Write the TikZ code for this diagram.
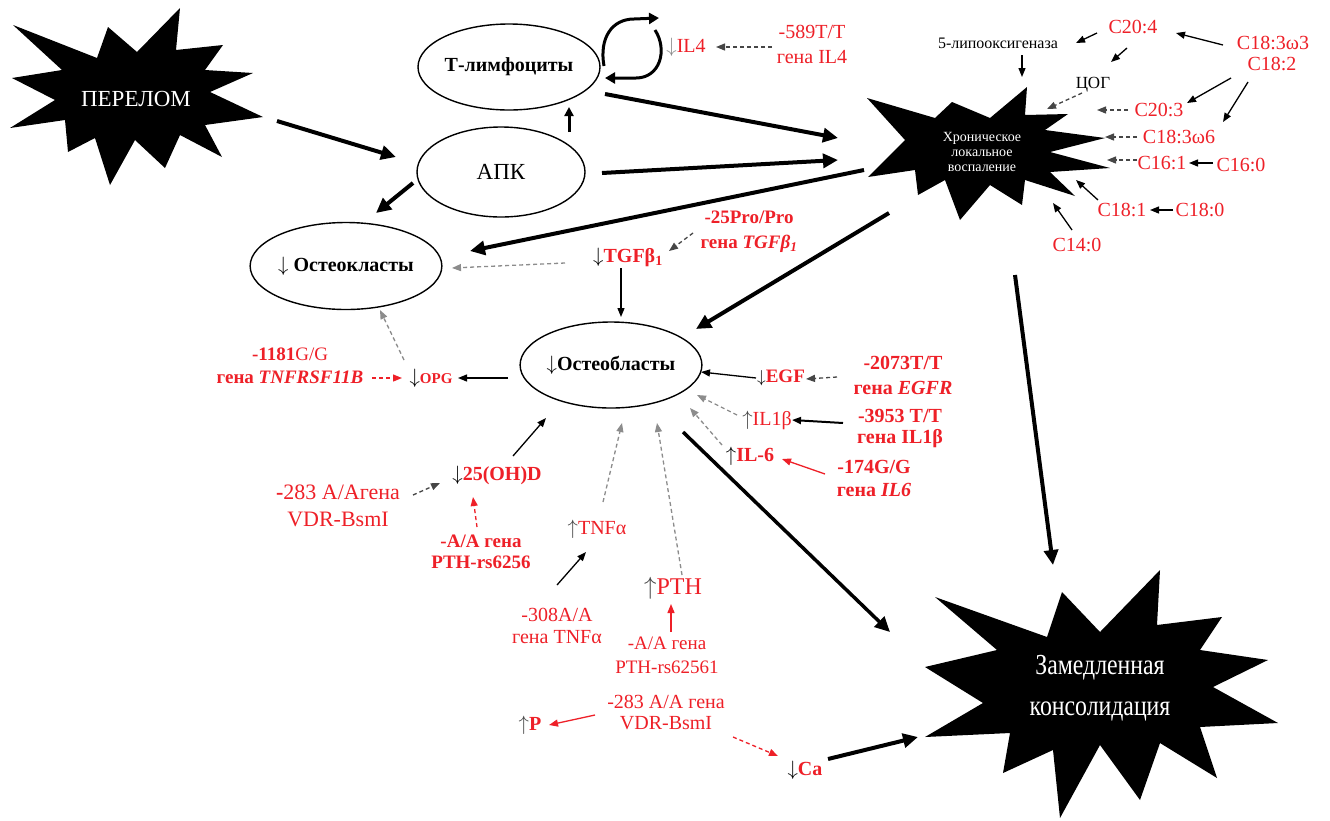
\documentclass[tikz,border=0pt]{standalone}
\usepackage{fontspec}
\setmainfont{Liberation Serif}
\usetikzlibrary{arrows.meta,shapes.geometric}
\definecolor{myred}{RGB}{238,32,40}
\definecolor{dgray}{RGB}{70,70,70}
\definecolor{mgray}{RGB}{140,140,140}
\newcommand\fz[2]{\fontsize{#1}{#2}\selectfont}
\newcommand\dnb{{\color{black}$\downarrow$}}
\newcommand\upg{{\color{dgray}$\uparrow$}}
\begin{document}
\begin{tikzpicture}[x=1pt,y=-1pt,
  ell/.style={ellipse, draw, line width=1.4pt, minimum width=168pt, minimum height=86pt, inner sep=0pt},
  lbl/.style={inner sep=0pt, align=center, text=myred},
  wtxt/.style={inner sep=0pt, align=center, text=white},
  thk/.style={line width=4pt, -{Triangle[length=15pt,width=14pt]}},
  thn/.style={line width=1.3pt, -{Triangle[length=9pt,width=7pt]}},
  bdsh/.style={thn, draw=dgray, dash pattern=on 4pt off 3pt},
  gdsh/.style={thn, draw=mgray, dash pattern=on 4pt off 3pt},
  rsol/.style={thn, draw=myred},
  rdsh/.style={thn, draw=myred, dash pattern=on 4pt off 3pt}
]
\path[use as bounding box] (0,0) rectangle (1330,820);
\fill[white] (0,0) rectangle (1330,820);

% ---------- starbursts ----------
\fill[black] (13,25) -- (97,58) -- (108,27) -- (137,52) -- (180,8) -- (176,50) -- (223,45) -- (205,70)
  -- (253,73) -- (210,92) -- (263,117) -- (205,125) -- (222,157) -- (180,135) -- (165,168) -- (135,140)
  -- (110,185) -- (95,138) -- (68,152) -- (65,120) -- (10,128) -- (55,100) -- (12,78) -- (62,70) -- cycle;
\fill[black] (867,98) -- (935,118) -- (952,102) -- (990,118) -- (1027,87) -- (1025,115) -- (1068,114)
  -- (1045,130) -- (1105,138) -- (1050,152) -- (1110,168) -- (1050,172) -- (1075,196) -- (1025,180)
  -- (1022,205) -- (990,185) -- (960,220) -- (945,180) -- (918,195) -- (915,170) -- (868,177) -- (905,140) -- cycle;
\fill[black] (935,597) -- (1047,637) -- (1062,592) -- (1100,632) -- (1160,570) -- (1157,625) -- (1222,617)
  -- (1200,650) -- (1268,660) -- (1213,687) -- (1278,723) -- (1200,727) -- (1217,778) -- (1160,743)
  -- (1140,800) -- (1100,745) -- (1060,818) -- (1053,750) -- (1003,773) -- (1010,733) -- (925,737)
  -- (983,703) -- (925,667) -- (997,650) -- cycle;

\node[wtxt, font=\fz{23}{26}] (perelom) at (136,99) {ПЕРЕЛОМ};
\node[wtxt, font=\fz{14}{15}] (chron) at (982,152) {Хроническое\\локальное\\воспаление};
\node[wtxt, font=\fz{29}{41}] (zamed) at (1100,688) {\scalebox{0.82}[1]{Замедленная}\\\scalebox{0.82}[1]{консолидация}};

% ---------- ellipses ----------
\node[ell, font=\bfseries\fz{20}{24}] (tl) at (509,67) {Т-лимфоциты};
\node[ell, minimum height=90pt, font=\fz{23}{26}] (apk) at (501,172) {АПК};
\node[ell, minimum height=87pt, font=\bfseries\fz{20}{24}] (ocl) at (346,266) {$\downarrow$ Остеокласты};
\node[ell, font=\bfseries\fz{20}{24}] (obl) at (611,365) {$\downarrow$Остеобласты};

% ---------- labels ----------
\node[lbl, font=\fz{20}{24}] (il4) at (686,47) {{\color{mgray}$\downarrow$}IL4};
\node[lbl, font=\fz{20}{25}] (g589) at (812,44) {-589T/T\\гена IL4};
\node[lbl, text=black, font=\fz{16}{18}] (lipo) at (998,43) {5-липооксигеназа};
\node[lbl, font=\fz{20}{22}] (c204) at (1133,27) {C20:4};
\node[lbl, text=black, font=\fz{17}{20}] (cog) at (1093,85) {ЦОГ};
\node[lbl, font=\fz{20}{22}] (c183w3) at (1273,43) {C18:3ω3};
\node[lbl, font=\fz{20}{22}] (c182) at (1272,64) {C18:2};
\node[lbl, font=\fz{20}{22}] (c203) at (1159,110) {C20:3};
\node[lbl, font=\fz{20}{22}] (c183w6) at (1179,137) {C18:3ω6};
\node[lbl, font=\fz{20}{22}] (c161) at (1162,163) {C16:1};
\node[lbl, font=\fz{20}{22}] (c160) at (1241,165) {C16:0};
\node[lbl, font=\fz{20}{22}] (c181) at (1122,210) {C18:1};
\node[lbl, font=\fz{20}{22}] (c180) at (1200,210) {C18:0};
\node[lbl, font=\fz{20}{22}] (c140) at (1077,245) {C14:0};

\node[lbl, font=\bfseries\fz{19}{25}] (tgfg) at (749,232) {-25Pro/Pro\\гена \textit{TGFβ\textsubscript{1}}};
\node[lbl, font=\bfseries\fz{20}{24}] (tgf) at (628,257) {\dnb TGFβ\textsubscript{1}};
\node[lbl, font=\bfseries\fz{15}{18}] (opg) at (431,378) {{\fz{21}{24}\dnb}OPG};
\node[lbl, font=\fz{19}{23}] (opgg) at (290,366) {\textbf{-1181}G/G\\\textbf{гена \textit{TNFRSF11B}}};
\node[lbl, font=\bfseries\fz{20}{24}] (d25) at (497,475) {\dnb 25(OH)D};
\node[lbl, font=\fz{22}{27}] (vdr1) at (338,506) {\textbf{-}283 А/Агена\\VDR-BsmI};
\node[lbl, font=\bfseries\fz{19}{21}] (pth6256) at (481,552) {-А/А гена\\PTH-rs6256};
\node[lbl, font=\fz{20}{24}] (tnf) at (597,529) {\upg TNFα};
\node[lbl, font=\fz{20}{22}] (tnfg) at (557,626) {-308A/A\\гена TNFα};
\node[lbl, font=\fz{24}{28}] (pth) at (673,588) {\upg PTH};
\node[lbl, font=\fz{19}{24}] (pthg) at (667,655) {-А/А гена\\PTH-rs62561};
\node[lbl, font=\fz{20}{21}] (vdr2) at (666,712) {-283 А/А гена\\VDR-BsmI};
\node[lbl, font=\bfseries\fz{20}{24}] (pp) at (530,725) {\upg P};
\node[lbl, font=\bfseries\fz{20}{24}] (ca) at (805,770) {\dnb Ca};
\node[lbl, font=\bfseries\fz{19}{24}] (egf) at (781,378) {\dnb EGF};
\node[lbl, font=\bfseries\fz{20}{25}] (egfg) at (903,375) {-2073T/T\\гена \textit{EGFR}};
\node[lbl, font=\fz{20}{24}] (il1b) at (767,420) {\upg IL1β};
\node[lbl, font=\bfseries\fz{20}{21}] (il1bg) at (900,428) {-3953 T/T\\гена IL1β};
\node[lbl, font=\bfseries\fz{20}{24}] (il6) at (750,456) {{\color{black}$\uparrow$}IL-6};
\node[lbl, font=\bfseries\fz{20}{23}] (il6g) at (874,478) {-174G/G\\гена \textit{IL6}};

% ---------- connector end points ----------
\coordinate (plO) at (277,121);    \coordinate (apkW) at (396,157);
\coordinate (apkSW) at (413,183);  \coordinate (oclNE) at (376,213);
\coordinate (apkN) at (569,132);   \coordinate (tlS) at (569,107);
\coordinate (tlSE) at (605,94);    \coordinate (chrW1) at (838,138);
\coordinate (apkE) at (602,173);   \coordinate (chrW2) at (838,160);
\coordinate (chrSW1) at (864,170); \coordinate (oclE) at (470,251);
\coordinate (chrSW2) at (889,213); \coordinate (oblNE) at (696,329);
\coordinate (chrS) at (1015,275);  \coordinate (zamN) at (1053,565);
\coordinate (oblSE) at (683,432);  \coordinate (zamW) at (890,632);
\coordinate (caE) at (828,759);    \coordinate (zamW2) at (918,737);

\coordinate (loopA) at (604,66);   \coordinate (loopB) at (659,18);
\coordinate (loopC) at (655,30);   \coordinate (loopD) at (605,78);

\coordinate (c204o1) at (1097,33); \coordinate (lipoE) at (1076,43);
\coordinate (c204o2) at (1127,48); \coordinate (cogN) at (1111,62);
\coordinate (lipoS) at (1022,55);  \coordinate (chrN) at (1022,77);
\coordinate (w3o) at (1223,45);    \coordinate (c204E) at (1176,33);
\coordinate (c182o1) at (1231,78); \coordinate (c203E) at (1187,103);
\coordinate (c182o2) at (1248,82); \coordinate (w6E) at (1223,122);
\coordinate (c160W) at (1213,163); \coordinate (c161E) at (1189,163);
\coordinate (c180W) at (1173,210); \coordinate (c181E) at (1150,210);
\coordinate (c181o) at (1098,200); \coordinate (chrSE1) at (1076,180);
\coordinate (c140o) at (1072,230); \coordinate (chrSE2) at (1053,203);
\coordinate (cogo) at (1082,93);   \coordinate (chrNE) at (1047,109);
\coordinate (c203W) at (1128,110); \coordinate (chrE1) at (1097,110);
\coordinate (w6W) at (1137,137);   \coordinate (chrE2) at (1105,137);
\coordinate (c161W) at (1137,160); \coordinate (chrE3) at (1107,160);
\coordinate (g589W) at (772,47);   \coordinate (il4E) at (716,47);

\coordinate (tgfS) at (621,268);   \coordinate (oblN) at (621,317);
\coordinate (tgfgo) at (693,233);  \coordinate (tgfE) at (669,251);
\coordinate (tgfW) at (565,263);   \coordinate (oclE2) at (452,268);
\coordinate (oblW) at (508,378);   \coordinate (opgE) at (458,378);
\coordinate (opgN) at (404,360);   \coordinate (oclS) at (380,310);
\coordinate (opggE) at (372,378);  \coordinate (opgW) at (402,378);
\coordinate (d25o) at (513,456);   \coordinate (oblSW) at (546,418);
\coordinate (vdr1E) at (413,495);  \coordinate (d25W) at (440,483);
\coordinate (p6256N) at (477,527); \coordinate (d25S) at (473,497);
\coordinate (tnfN) at (603,502);   \coordinate (oblS1) at (622,423);
\coordinate (tnfgo) at (557,585);  \coordinate (tnfSW) at (586,552);
\coordinate (pthN) at (682,575);   \coordinate (oblS2) at (657,423);
\coordinate (pthgN) at (671,632);  \coordinate (pthS) at (671,604);
\coordinate (vdr2W) at (595,715);  \coordinate (ppE) at (549,725);
\coordinate (vdr2SE) at (733,737); \coordinate (caNW) at (778,756);
\coordinate (egfW) at (756,378);   \coordinate (oblE1) at (701,372);
\coordinate (egfgW) at (837,377);  \coordinate (egfE) at (806,379);
\coordinate (il1bW) at (737,415);  \coordinate (oblE2) at (697,395);
\coordinate (il1bgW) at (843,423); \coordinate (il1bE) at (792,420);
\coordinate (il6W) at (722,445);   \coordinate (oblE3) at (690,408);
\coordinate (il6gW) at (825,474);  \coordinate (il6E) at (782,459);

% ---------- thick connectors ----------
\draw[thk] (plO) -- (apkW);
\draw[thk] (apkSW) -- (oclNE);
\draw[line width=3pt, -{Triangle[length=9pt,width=9pt]}] (apkN) -- (tlS);
\draw[thk] (tlSE) -- (chrW1);
\draw[thk] (apkE) -- (chrW2);
\draw[thk] (chrSW1) -- (oclE);
\draw[thk] (chrSW2) -- (oblNE);
\draw[thk] (chrS) -- (zamN);
\draw[line width=3.5pt, -{Triangle[length=15pt,width=14pt]}] (oblSE) -- (zamW);
\draw[thk] (caE) -- (zamW2);

% loop
\draw[line width=3pt, -{Triangle[length=10pt,width=11pt]}] (loopA) .. controls (599,38) and (612,19) .. (634,19) -- (loopB);
\draw[line width=3pt, -{Triangle[length=10pt,width=11pt]}] (loopC) .. controls (668,50) and (660,78) .. (636,78) -- (loopD);

% ---------- thin connectors ----------
\draw[thn] (c204o1) -- (lipoE);
\draw[thn] (c204o2) -- (cogN);
\draw[thn] (lipoS) -- (chrN);
\draw[thn] (w3o) -- (c204E);
\draw[thn] (c182o1) -- (c203E);
\draw[thn] (c182o2) -- (w6E);
\draw[thn] (c160W) -- (c161E);
\draw[thn] (c180W) -- (c181E);
\draw[thn] (c181o) -- (chrSE1);
\draw[thn] (c140o) -- (chrSE2);
\draw[bdsh] (cogo) -- (chrNE);
\draw[bdsh] (c203W) -- (chrE1);
\draw[bdsh] (w6W) -- (chrE2);
\draw[bdsh] (c161W) -- (chrE3);
\draw[bdsh] (g589W) -- (il4E);

\draw[thn] (tgfS) -- (oblN);
\draw[bdsh] (tgfgo) -- (tgfE);
\draw[gdsh] (tgfW) -- (oclE2);
\draw[thn] (oblW) -- (opgE);
\draw[gdsh] (opgN) -- (oclS);
\draw[rdsh] (opggE) -- (opgW);
\draw[thn] (d25o) -- (oblSW);
\draw[bdsh] (vdr1E) -- (d25W);
\draw[rdsh] (p6256N) -- (d25S);
\draw[gdsh] (tnfN) -- (oblS1);
\draw[thn] (tnfgo) -- (tnfSW);
\draw[gdsh] (pthN) -- (oblS2);
\draw[rsol] (pthgN) -- (pthS);
\draw[rsol] (vdr2W) -- (ppE);
\draw[rdsh] (vdr2SE) -- (caNW);
\draw[thn] (egfW) -- (oblE1);
\draw[bdsh] (egfgW) -- (egfE);
\draw[gdsh] (il1bW) -- (oblE2);
\draw[thn, line width=2pt] (il1bgW) -- (il1bE);
\draw[gdsh] (il6W) -- (oblE3);
\draw[rsol] (il6gW) -- (il6E);
\end{tikzpicture}
\end{document}
